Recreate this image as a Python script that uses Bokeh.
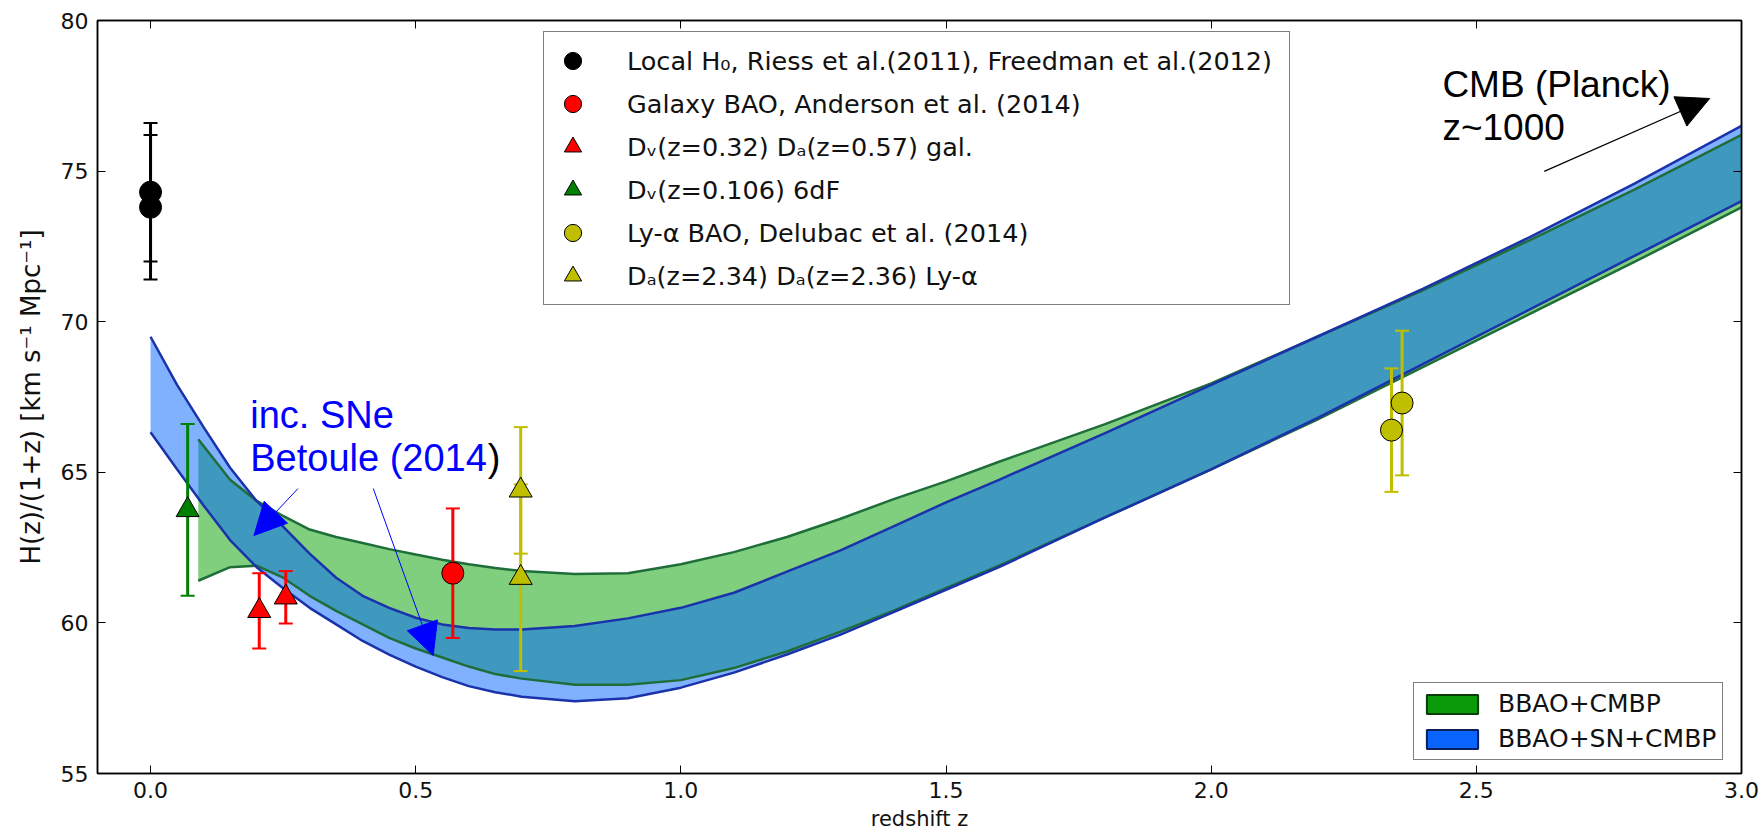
import numpy as np
from bokeh.plotting import figure
from bokeh.models import (Range1d, LinearAxis, FixedTicker, NumeralTickFormatter, Legend, LegendItem,
                          Arrow, NormalHead, Label, CustomJSTickFormatter)
from bokeh.embed import file_html
from bokeh.resources import INLINE

# ---------------- data ----------------
# BBAO+SN+CMBP band (blue)
z_blue = [0.0, 0.05, 0.1, 0.15, 0.2, 0.25, 0.3, 0.35, 0.4, 0.45, 0.5, 0.55, 0.6, 0.65, 0.7, 0.8, 0.9,
          1.0, 1.1, 1.2, 1.3, 1.4, 1.5, 1.6, 1.8, 2.0, 2.2, 2.4, 2.6, 2.8, 3.0]
blue_hi = [69.5, 67.9, 66.5, 65.15, 64.05, 63.2, 62.3, 61.5, 60.9, 60.5, 60.17, 59.95, 59.83, 59.78, 59.78, 59.9, 60.15,
           60.5, 61.0, 61.7, 62.4, 63.2, 64.0, 64.75, 66.3, 67.9, 69.5, 71.1, 72.8, 74.6, 76.5]
blue_lo = [66.33, 65.1, 63.9, 62.75, 61.85, 61.15, 60.5, 59.95, 59.4, 58.95, 58.55, 58.2, 57.9, 57.7, 57.55, 57.4, 57.5,
           57.85, 58.35, 58.95, 59.6, 60.35, 61.1, 61.85, 63.5, 65.1, 66.8, 68.6, 70.4, 72.2, 74.0]
# BBAO+CMBP band (green)
z_green = [0.09, 0.15, 0.2, 0.25, 0.3, 0.35, 0.4, 0.45, 0.5, 0.55, 0.6, 0.65, 0.7, 0.8, 0.9,
           1.0, 1.1, 1.2, 1.3, 1.4, 1.5, 1.6, 1.8, 2.0, 2.2, 2.4, 2.6, 2.8, 3.0]
green_hi = [66.1, 64.75, 64.05, 63.55, 63.1, 62.85, 62.65, 62.45, 62.27, 62.1, 61.95, 61.82, 61.72, 61.62, 61.65,
            61.95, 62.35, 62.85, 63.45, 64.1, 64.7, 65.35, 66.6, 67.95, 69.5, 71.05, 72.7, 74.4, 76.2]
green_lo = [61.4, 61.85, 61.9, 61.5, 60.9, 60.4, 59.95, 59.5, 59.15, 58.85, 58.55, 58.3, 58.15, 57.95, 57.95,
            58.1, 58.5, 59.05, 59.7, 60.4, 61.15, 61.9, 63.5, 65.1, 66.75, 68.5, 70.25, 72.0, 73.8]

# measurements
local_z = [0.0, 0.0]
local_h = [74.3, 73.8]
local_err = [2.3, 2.4]
gal_bao_z = [0.57]
gal_bao_h = [61.65]
gal_bao_err = [2.15]
gal_dvda_z = [0.205, 0.255]
gal_dvda_h = [60.4, 60.85]
gal_dvda_err = [1.25, 0.87]
sixdf_z = [0.07]
sixdf_h = [63.75]
sixdf_err = [2.85]
lya_bao_z = [2.34, 2.36]
lya_bao_h = [66.4, 67.3]
lya_bao_err = [2.05, 2.4]
lya_da_z = [0.698, 0.698]
lya_da_h = [64.4, 61.5]
lya_da_err = [2.1, 3.1]

x_ticks = [0.0, 0.5, 1.0, 1.5, 2.0, 2.5, 3.0]
y_ticks = [55, 60, 65, 70, 75, 80]

# ---------------- figure ----------------
p = figure(width=1763, height=836, x_range=Range1d(-0.1, 3.0), y_range=Range1d(55, 80),
           output_backend="svg", toolbar_location=None,
           min_border_left=97, min_border_right=22, min_border_top=20, min_border_bottom=63)
p.xgrid.visible = False
p.ygrid.visible = False
p.outline_line_color = "black"
p.outline_line_width = 1.5
p.background_fill_color = "white"
p.border_fill_color = "white"

TICK_FONT = "DejaVu Sans"
for ax in p.xaxis:
    ax.ticker = FixedTicker(ticks=x_ticks)
    ax.formatter = NumeralTickFormatter(format="0.0")
for ax in p.yaxis:
    ax.ticker = FixedTicker(ticks=y_ticks)
    ax.formatter = NumeralTickFormatter(format="0")
for ax in list(p.xaxis) + list(p.yaxis):
    ax.major_tick_in = 8
    ax.major_tick_out = 0
    ax.minor_tick_line_color = None
    ax.axis_line_width = 1.5
    ax.axis_line_color = "black"
    ax.major_tick_line_color = "black"
    ax.major_label_text_font = TICK_FONT
    ax.major_label_text_font_size = "22px"
    ax.major_label_text_color = "#111111"
    ax.axis_label_text_font = TICK_FONT
    ax.axis_label_text_font_style = "normal"
    ax.axis_label_text_color = "#111111"
p.xaxis.major_label_standoff = 8
p.yaxis.major_label_standoff = 9
p.xaxis.axis_label = "redshift z"
p.xaxis.axis_label_text_font_size = "21px"
p.xaxis.axis_label_standoff = 6
p.yaxis.axis_label = "H(z)/(1+z) [km s⁻¹ Mpc⁻¹]"
p.yaxis.axis_label_text_font_size = "26px"
p.yaxis.axis_label_standoff = 12

blank = CustomJSTickFormatter(code="return ''")
top_ax = LinearAxis(ticker=FixedTicker(ticks=x_ticks), formatter=blank,
                    major_tick_in=8, major_tick_out=0, minor_tick_line_color=None, axis_line_width=1.5,
                    major_label_standoff=0)
right_ax = LinearAxis(ticker=FixedTicker(ticks=y_ticks), formatter=blank,
                      major_tick_in=8, major_tick_out=0, minor_tick_line_color=None, axis_line_width=1.5,
                      major_label_standoff=0)
p.add_layout(top_ax, "above")
p.add_layout(right_ax, "right")

# ---------------- bands ----------------
GREEN_FILL = "#00a000"
BLUE_FILL = "#0064ff"
GREEN_EDGE = "#1f6e3a"
BLUE_EDGE = "#1a32aa"
p.varea(x=z_green, y1=green_lo, y2=green_hi, fill_color=GREEN_FILL, fill_alpha=0.5)
p.varea(x=z_blue, y1=blue_lo, y2=blue_hi, fill_color=BLUE_FILL, fill_alpha=0.5)
p.line(z_green, green_hi, line_color=GREEN_EDGE, line_width=2.5)
p.line(z_green, green_lo, line_color=GREEN_EDGE, line_width=2.5)
p.line(z_blue, blue_hi, line_color=BLUE_EDGE, line_width=2.5)
p.line(z_blue, blue_lo, line_color=BLUE_EDGE, line_width=2.5)

# ---------------- measurements ----------------
def errbars(zs, hs, es, color):
    lo = [h - e for h, e in zip(hs, es)]
    hi = [h + e for h, e in zip(hs, es)]
    p.segment(x0=zs, y0=lo, x1=zs, y1=hi, line_color=color, line_width=3)
    p.scatter(x=zs + zs, y=lo + hi, marker="dash", size=14, line_color=color, line_width=2)

def points(zs, hs, marker, color, size):
    return p.scatter(x=zs, y=hs, marker=marker, size=size, fill_color=color,
                     line_color="black", line_width=1)

BLACK = "#000000"
RED = "#ff0000"
GREEN = "#008000"
YELLOW = "#bfbf00"

errbars(local_z, local_h, local_err, BLACK)
errbars(gal_bao_z, gal_bao_h, gal_bao_err, RED)
errbars(gal_dvda_z, gal_dvda_h, gal_dvda_err, RED)
errbars(sixdf_z, sixdf_h, sixdf_err, GREEN)
errbars(lya_bao_z, lya_bao_h, lya_bao_err, YELLOW)
errbars(lya_da_z, lya_da_h, lya_da_err, YELLOW)

r_local = points(local_z, local_h, "circle", BLACK, 22)
r_galbao = points(gal_bao_z, gal_bao_h, "circle", RED, 22)
r_galdvda = points(gal_dvda_z, gal_dvda_h, "triangle", RED, 23)
r_6df = points(sixdf_z, sixdf_h, "triangle", GREEN, 23)
r_lyabao = points(lya_bao_z, lya_bao_h, "circle", YELLOW, 22)
r_lyada = points(lya_da_z, lya_da_h, "triangle", YELLOW, 23)

# ---------------- legends ----------------
leg_top = Legend(items=[
    LegendItem(label="Local H₀, Riess et al.(2011), Freedman et al.(2012)", renderers=[r_local]),
    LegendItem(label="Galaxy BAO, Anderson et al. (2014)", renderers=[r_galbao]),
    LegendItem(label="Dᵥ(z=0.32) Dₐ(z=0.57) gal.", renderers=[r_galdvda]),
    LegendItem(label="Dᵥ(z=0.106) 6dF", renderers=[r_6df]),
    LegendItem(label="Ly-α BAO, Delubac et al. (2014)", renderers=[r_lyabao]),
    LegendItem(label="Dₐ(z=2.34) Dₐ(z=2.36) Ly-α", renderers=[r_lyada]),
], location=(446, 468))
leg_top.label_text_font = "DejaVu Sans"
leg_top.label_text_font_size = "25.5px"
leg_top.label_text_color = "#111111"
leg_top.label_height = 36
leg_top.glyph_height = 43
leg_top.glyph_width = 43
leg_top.label_width = 655
leg_top.label_standoff = 33
leg_top.spacing = 0
leg_top.padding = 7
leg_top.margin = 0
leg_top.border_line_color = "black"
leg_top.border_line_width = 1.5
leg_top.background_fill_color = "white"
leg_top.background_fill_alpha = 1.0
p.add_layout(leg_top)

nan1 = np.array([np.nan])
d_green = p.quad(left=nan1, right=nan1, top=nan1, bottom=nan1, fill_color="#0a9a0a", line_color="#0b3d0b", line_width=2)
d_blue = p.quad(left=nan1, right=nan1, top=nan1, bottom=nan1, fill_color="#0a64ff", line_color="#0a1f5a", line_width=2)
leg_bot = Legend(items=[
    LegendItem(label="BBAO+CMBP", renderers=[d_green]),
    LegendItem(label="BBAO+SN+CMBP", renderers=[d_blue]),
], location=(1316, 13))
leg_bot.label_text_font = "DejaVu Sans"
leg_bot.label_text_font_size = "25px"
leg_bot.label_text_color = "#111111"
leg_bot.label_height = 24
leg_bot.glyph_height = 24
leg_bot.glyph_width = 64
leg_bot.label_standoff = 14
leg_bot.spacing = 6
leg_bot.padding = 6
leg_bot.margin = 0
leg_bot.border_line_color = "black"
leg_bot.border_line_width = 1.5
leg_bot.background_fill_alpha = 1.0
p.add_layout(leg_bot)

# ---------------- annotations ----------------
ANN_FONT = "Liberation Sans"
p.add_layout(Label(x=2.436, y=77.875, text="CMB (Planck)", text_font=ANN_FONT, text_font_size="37px",
                   text_baseline="middle", text_align="left", text_color="black"))
p.add_layout(Label(x=2.436, y=76.45, text="z~1000", text_font=ANN_FONT, text_font_size="37px",
                   text_baseline="middle", text_align="left", text_color="black"))
p.add_layout(Arrow(x_start=2.628, y_start=74.99, x_end=2.94, y_end=77.41, line_color="black", line_width=1.2,
                   end=NormalHead(size=32, fill_color="black", line_color="black")))

p.add_layout(Label(x=0.188, y=66.89, text="inc. SNe", text_font=ANN_FONT, text_font_size="38px",
                   text_baseline="middle", text_align="left", text_color="#0000ff"))
p.add_layout(Label(x=0.188, y=65.46, text="Betoule (2014", text_font=ANN_FONT, text_font_size="38px",
                   text_baseline="middle", text_align="left", text_color="#0000ff"))
p.add_layout(Label(x=0.636, y=65.46, text=")", text_font=ANN_FONT, text_font_size="38px",
                   text_baseline="middle", text_align="left", text_color="black"))
p.add_layout(Arrow(x_start=0.278, y_start=64.46, x_end=0.195, y_end=62.9, line_color="#0000ff", line_width=1,
                   end=NormalHead(size=32, fill_color="#0000ff", line_color="#0000ff")))
p.add_layout(Arrow(x_start=0.420, y_start=64.46, x_end=0.533, y_end=58.92, line_color="#0000ff", line_width=1,
                   end=NormalHead(size=32, fill_color="#0000ff", line_color="#0000ff")))

open("out.html", "w").write(file_html(p, INLINE))
